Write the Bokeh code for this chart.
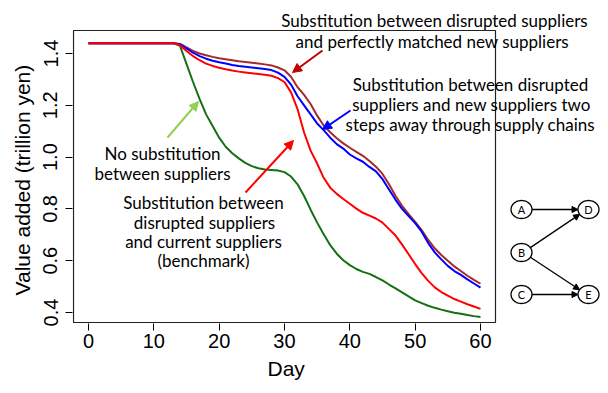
import math
from bokeh.plotting import figure
from bokeh.models import (Label, Arrow, NormalHead, PolyAnnotation, BoxAnnotation,
                          FixedTicker, NumeralTickFormatter, Title)
from bokeh.embed import file_html
from bokeh.resources import INLINE

# ---------------- data ----------------
days = list(range(61))
flat = [1.44] * 14  # days 0..13

no_substitution = flat + [
    1.43, 1.36, 1.29, 1.225, 1.165, 1.12, 1.075, 1.04, 1.015, 0.995,
    0.978, 0.965, 0.957, 0.952, 0.95, 0.948, 0.942, 0.925, 0.895, 0.85,
    0.797, 0.747, 0.702, 0.66, 0.627, 0.602, 0.583, 0.568, 0.557, 0.549,
    0.537, 0.524, 0.508, 0.493, 0.478, 0.462, 0.447, 0.436, 0.426, 0.418,
    0.411, 0.405, 0.399, 0.395, 0.39, 0.386, 0.383]

benchmark = flat + [
    1.432, 1.41, 1.39, 1.374, 1.361, 1.352, 1.345, 1.339, 1.334, 1.33,
    1.327, 1.324, 1.321, 1.318, 1.314, 1.305, 1.29, 1.25, 1.185, 1.095,
    1.025, 0.975, 0.92, 0.882, 0.858, 0.838, 0.82, 0.801, 0.785, 0.774,
    0.763, 0.747, 0.722, 0.697, 0.662, 0.625, 0.587, 0.552, 0.522, 0.497,
    0.479, 0.465, 0.452, 0.442, 0.432, 0.423, 0.414]

two_steps_away = flat + [
    1.436, 1.42, 1.403, 1.39, 1.38, 1.372, 1.366, 1.361, 1.356, 1.352,
    1.349, 1.346, 1.343, 1.34, 1.336, 1.326, 1.31, 1.28, 1.235, 1.2,
    1.165, 1.13, 1.104, 1.075, 1.05, 1.033, 1.01, 0.995, 0.982, 0.962,
    0.945, 0.915, 0.875, 0.835, 0.8, 0.772, 0.745, 0.712, 0.668, 0.632,
    0.605, 0.58, 0.56, 0.545, 0.528, 0.512, 0.496]

perfectly_matched = flat + [
    1.437, 1.424, 1.41, 1.4, 1.393, 1.387, 1.382, 1.378, 1.374, 1.37,
    1.367, 1.364, 1.361, 1.358, 1.354, 1.346, 1.335, 1.31, 1.27, 1.24,
    1.205, 1.16, 1.122, 1.096, 1.073, 1.053, 1.036, 1.02, 1.005, 0.985,
    0.963, 0.935, 0.895, 0.85, 0.812, 0.78, 0.75, 0.718, 0.68, 0.648,
    0.622, 0.6, 0.578, 0.56, 0.542, 0.526, 0.511]

x_ticks = [0, 10, 20, 30, 40, 50, 60]
y_ticks = [0.4, 0.6, 0.8, 1.0, 1.2, 1.4]
x_label = "Day"
y_label = "Value added (trillion yen)"

# ---------------- pixel helpers (page pixels -> data) ----------------
def dx(px):
    return (px - 88) / 6.533

def dy(py):
    return 0.4 + (312 - py) / 259.0

W, H = 605, 390
FL, FB = 72, 323  # frame left / bottom in pixels
p = figure(width=W, height=H, x_range=(dx(FL), dx(W)), y_range=(dy(FB), dy(0)),
           output_backend="svg", toolbar_location=None,
           min_border_left=FL, min_border_right=0, min_border_top=0, min_border_bottom=H - FB)

p.xgrid.visible = False
p.ygrid.visible = False
p.outline_line_color = None
p.background_fill_color = "white"
p.border_fill_color = "white"

# plot box (R style)
p.add_layout(BoxAnnotation(left=dx(73), right=dx(495), top=dy(30), bottom=dy(322),
                           fill_alpha=0, line_color="#222222", line_width=1.2, line_alpha=1.0))

p.xaxis.ticker = FixedTicker(ticks=x_ticks)
p.yaxis.ticker = FixedTicker(ticks=y_ticks)
p.yaxis.formatter = NumeralTickFormatter(format="0.0")
for ax in (p.xaxis, p.yaxis):
    ax.axis_line_color = None
    ax.major_tick_in = 0
    ax.major_tick_out = 7
    ax.major_tick_line_color = "black"
    ax.minor_tick_line_color = None
    ax.major_label_text_font = "Liberation Sans"
    ax.major_label_text_font_size = "20px"
    ax.major_label_text_color = "black"
p.xaxis.major_label_standoff = 3
p.yaxis.major_label_orientation = "vertical"
p.yaxis.major_label_standoff = 8

# axis titles, positioned along the plot box (offset from the frame's start)
p.add_layout(Title(text=x_label, align="left", offset=195, standoff=9,
                   text_font="Liberation Sans", text_font_size="21px",
                   text_font_style="normal", text_color="black"), "below")
p.add_layout(Title(text=y_label, align="left", offset=28, standoff=14,
                   text_font="Liberation Sans", text_font_size="21px",
                   text_font_style="normal", text_color="black"), "left")

p.line(days, no_substitution, line_color="#157015", line_width=2)
p.line(days, perfectly_matched, line_color="#A52A2A", line_width=2)
p.line(days, two_steps_away, line_color="#0000FF", line_width=2)
p.line(days, benchmark, line_color="#FF0000", line_width=2)

# ---------------- annotations ----------------
def lab(text, xp, yp, size="17px"):
    p.add_layout(Label(x=dx(xp), y=dy(yp), text=text, text_align="center",
                       text_baseline="middle", text_font="Lato",
                       text_font_size=size, text_color="black"))

def arrow(x0, y0, x1, y1, color, width=2, size=9):
    p.add_layout(Arrow(end=NormalHead(size=size, fill_color=color, line_color=color, line_width=1),
                       x_start=dx(x0), y_start=dy(y0), x_end=dx(x1), y_end=dy(y1),
                       line_color=color, line_width=width))

lab("Substitution between disrupted suppliers", 434, 20)
lab("and perfectly matched new suppliers", 432, 41)
lab("Substitution between disrupted", 470, 84)
lab("suppliers and new suppliers two", 471, 104)
lab("steps away through supply chains", 470, 124)
lab("No substitution", 162, 153)
lab("between suppliers", 162, 173)
lab("Substitution between", 203, 202)
lab("disrupted suppliers", 204, 222)
lab("and current suppliers", 203, 241)
lab("(benchmark)", 203, 260)

arrow(167, 137, 198, 101, "#92D050")
arrow(245, 192, 293, 140, "#FF0000")
arrow(322, 50, 292, 72, "#C00000")
arrow(350, 110, 322, 129, "#0000FF")

# ---------------- small network diagram ----------------
nodes = {"A": (521, 209), "B": (521, 252), "C": (521, 294), "D": (588, 209), "E": (588, 294)}
edges = [("A", "D"), ("B", "D"), ("B", "E"), ("C", "E")]
rx, ry = 10.5, 9.0
for a, b in edges:
    (xa, ya), (xb, yb) = nodes[a], nodes[b]
    L = math.hypot(xb - xa, yb - ya)
    ux, uy = (xb - xa) / L, (yb - ya) / L
    arrow(xa + rx * ux, ya + ry * uy, xb - rx * ux, yb - ry * uy, "black", width=1.3, size=6)
for name, (cx, cy) in nodes.items():
    ts = [2 * math.pi * i / 48 for i in range(48)]
    p.add_layout(PolyAnnotation(xs=[dx(cx + rx * math.cos(t)) for t in ts],
                                ys=[dy(cy + ry * math.sin(t)) for t in ts],
                                fill_color="white", fill_alpha=1.0,
                                line_color="black", line_width=1.3, line_alpha=1.0))
    lab(name, cx, cy, size="11px")

open("out.html", "w").write(file_html(p, INLINE))
